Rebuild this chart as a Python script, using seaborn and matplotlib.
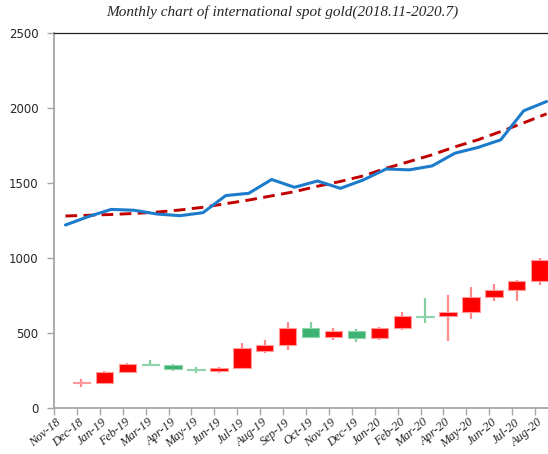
import numpy as np
import pandas as pd
import matplotlib.pyplot as plt
import seaborn as sns

# Month labels on the category axis
months = ['Nov-18', 'Dec-18', 'Jan-19', 'Feb-19', 'Mar-19', 'Apr-19', 'May-19',
          'Jun-19', 'Jul-19', 'Aug-19', 'Sep-19', 'Oct-19', 'Nov-19', 'Dec-19',
          'Jan-20', 'Feb-20', 'Mar-20', 'Apr-20', 'May-20', 'Jun-20', 'Jul-20',
          'Aug-20']

# Spot gold (blue line) and trend (red dashed line)
spot_close = [1220, 1276, 1324, 1318, 1293, 1282, 1302, 1416, 1431, 1523, 1471,
              1513, 1464, 1520, 1593, 1587, 1613, 1698, 1736, 1787, 1980, 2042]
trend = [1280, 1285, 1290, 1297, 1306, 1320, 1338, 1362, 1386, 1414, 1442,
         1478, 1510, 1547, 1598, 1642, 1687, 1740, 1787, 1842, 1900, 1960]

# Candles, Dec-18 .. Aug-20
k_open = [168, 170, 244, 295, 290, 260, 248, 268, 380, 421, 537,
          472, 517, 467, 533, 615, 612, 640, 740, 790, 849]
k_close = [172, 244, 295, 290, 260, 252, 270, 400, 420, 537, 472,
           517, 467, 533, 615, 610, 640, 740, 787, 849, 989]
k_high = [193, 248, 301, 320, 297, 272, 277, 436, 452, 572, 576,
          532, 530, 543, 643, 736, 754, 807, 827, 853, 1000]
k_low = [144, 170, 240, 280, 247, 232, 232, 266, 365, 390, 466,
         456, 442, 452, 518, 566, 450, 592, 713, 712, 820]

sns.set_theme(style='white')
plt.rcParams['font.family'] = ['DejaVu Sans']

fig = plt.figure(figsize=(5.48, 4.54), dpi=100)
ax = fig.add_axes([54 / 548, 45.7 / 454, 504 / 548, 375.6 / 454])

df = pd.DataFrame({'pos': np.arange(len(months)), 'close': spot_close, 'trend': trend})

# candles
kx = np.arange(1, len(months)) - 0.3
o = np.array(k_open)
c = np.array(k_close)
up = c >= o
body_col = np.where(up, '#FF0000', '#3CB371')
edge_col = np.where(up, '#FF9A9A', '#8FD4AA')
wick_col = np.where(up, '#FF8A8A', '#86CFA2')
ax.vlines(kx, k_low, k_high, colors=wick_col, lw=1.6, zorder=2)
ax.bar(kx, np.maximum(np.abs(c - o), 5), bottom=np.minimum(o, c), width=0.76,
       color=body_col, edgecolor=edge_col, linewidth=0.8, zorder=3)

sns.lineplot(data=df, x='pos', y='trend', ax=ax, color='#C00000', lw=2.1,
             linestyle=(0, (4, 2.2)), zorder=4)
sns.lineplot(data=df, x='pos', y='close', ax=ax, color='#1C7CCB', lw=2.2, zorder=5)

ax.set_xlim(-0.5, len(months) - 0.5)
ax.set_ylim(0, 2500)
ax.set_yticks(np.arange(0, 2501, 500))
ax.set_xlabel('')
ax.set_ylabel('')

# labels sit a little left of the category centre, like the original
ax.set_xticks(np.arange(len(months)) - 0.25)
ax.set_xticklabels(months, rotation=40, ha='right', va='center', rotation_mode='anchor',
                   family='Liberation Serif', style='italic', fontsize=9)
ax.set_xticks(np.arange(-0.5, len(months)), minor=True)
ax.tick_params(axis='x', which='major', length=0, pad=9)
ax.tick_params(axis='x', which='minor', length=5, color='#A6A6A6', width=1, direction='out', bottom=True)
ax.tick_params(axis='y', length=5, color='#A6A6A6', width=1, direction='out', left=True,
               labelsize=8.5, pad=6)

for side in ['left', 'bottom']:
    ax.spines[side].set_color('#A6A6A6')
    ax.spines[side].set_linewidth(1.3)
ax.spines['top'].set_color('#202020')
ax.spines['top'].set_linewidth(0.9)
ax.spines['right'].set_visible(False)

fig.text(282 / 548, 1 - 12 / 454, 'Monthly chart of international spot gold(2018.11-2020.7)',
         ha='center', va='center', family='Liberation Serif', style='italic', fontsize=11)

fig.savefig('out.png', dpi=100)
